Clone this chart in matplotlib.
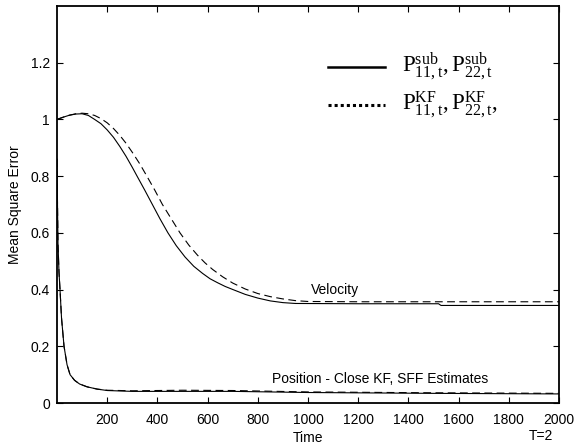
import matplotlib
matplotlib.use("Agg")
import matplotlib.pyplot as plt
from matplotlib.lines import Line2D

plt.rcParams['font.family'] = ['Liberation Sans', 'DejaVu Sans']
plt.rcParams['mathtext.fontset'] = 'custom'
plt.rcParams['mathtext.rm'] = 'Liberation Serif'
plt.rcParams['mathtext.it'] = 'Liberation Serif:italic'

# Velocity MSE (sub-optimal filter, solid)
vel_sub_t = [0, 25, 50, 75, 100, 125, 150, 175, 200, 225, 250, 275, 300, 319, 350, 380, 410, 442,
             475, 510, 545, 580, 610, 640, 670, 701, 750, 800, 850, 900, 950, 1200, 1520, 1530, 2000]
vel_sub_v = [1.0, 1.008, 1.015, 1.019, 1.02, 1.014, 1.0, 0.985, 0.963, 0.937, 0.905, 0.87, 0.831, 0.8, 0.75, 0.7, 0.65, 0.6,
             0.555, 0.515, 0.482, 0.457, 0.438, 0.424, 0.411, 0.40, 0.383, 0.37, 0.36, 0.354, 0.351, 0.35, 0.35, 0.344, 0.344]

# Velocity MSE (Kalman filter, dashed)
vel_kf_t = [0, 25, 50, 75, 100, 125, 150, 175, 200, 225, 250, 275, 300, 330, 358, 390, 420, 455, 490,
            525, 560, 590, 620, 660, 700, 750, 800, 850, 900, 950, 1000, 1200, 2000]
vel_kf_v = [1.0, 1.008, 1.015, 1.02, 1.022, 1.02, 1.014, 1.003, 0.988, 0.968, 0.944, 0.916, 0.884, 0.843, 0.8, 0.75, 0.70, 0.65, 0.6,
            0.557, 0.521, 0.494, 0.471, 0.445, 0.423, 0.402, 0.386, 0.375, 0.367, 0.361, 0.358, 0.357, 0.357]

# Position MSE (sub-optimal filter, solid)
pos_sub_t = [0, 2, 4, 8, 12, 18, 28, 40, 52, 70, 90, 120, 160, 200, 300, 500, 700, 1000, 1500, 2000]
pos_sub_v = [0.86, 0.7, 0.56, 0.46, 0.40, 0.30, 0.20, 0.135, 0.10, 0.08, 0.067, 0.057, 0.049, 0.044,
             0.041, 0.041, 0.041, 0.037, 0.034, 0.032]

# Position MSE (Kalman filter, dashed)
pos_kf_t = [0, 2, 4, 8, 12, 18, 28, 40, 52, 70, 90, 120, 160, 200, 300, 500, 700, 1000, 1500, 2000]
pos_kf_v = [0.86, 0.7, 0.56, 0.46, 0.40, 0.30, 0.20, 0.135, 0.10, 0.08, 0.067, 0.057, 0.049, 0.045,
            0.043, 0.045, 0.044, 0.039, 0.036, 0.034]

x_ticks = [200, 400, 600, 800, 1000, 1200, 1400, 1600, 1800, 2000]
y_ticks = [0, 0.2, 0.4, 0.6, 0.8, 1.0, 1.2]
y_tick_labels = ['0', '0.2', '0.4', '0.6', '0.8', '1', '1.2']

fig = plt.figure(figsize=(5.74, 4.44), dpi=100)
ax = fig.add_axes([57/574, 41/444, (559-57)/574, (403-6)/444])

lw = 0.8
ax.plot(vel_sub_t, vel_sub_v, color='black', lw=lw)
ax.plot(vel_kf_t, vel_kf_v, color='black', lw=lw, dashes=(7, 4))
ax.plot(pos_sub_t, pos_sub_v, color='black', lw=lw)
ax.plot(pos_kf_t, pos_kf_v, color='black', lw=lw, dashes=(7, 4))

ax.set_xlim(0, 2000)
ax.set_ylim(0, 1.4)
ax.set_xticks(x_ticks)
ax.set_yticks(y_ticks)
ax.set_yticklabels(y_tick_labels)
ax.tick_params(direction='in', top=True, right=True, length=4, width=0.8,
               labelsize=10)
ax.tick_params(axis='x', pad=7)
ax.tick_params(axis='y', pad=5)
for s in ax.spines.values():
    s.set_linewidth(1.3)

ax.set_xlabel('Time', fontsize=10, labelpad=3)
ax.set_ylabel('Mean Square Error', fontsize=10, labelpad=6)
fig.text(541/574, 1 - 436/444, 'T=2', ha='center', va='center', fontsize=10)

ax.text(1107, (403-289)/285, 'Velocity', ha='center', va='center', fontsize=10)
ax.text(855, (403-379)/285, 'Position - Close KF, SFF Estimates',
        ha='left', va='center', fontsize=10)

# custom legend
ax.add_line(Line2D([1080, 1307], [(403-65)/285]*2, color='black', lw=1.8))
ax.add_line(Line2D([1080, 1307], [(403-103)/285]*2,
                   color='black', lw=2.2, linestyle=(0, (1, 1))))
ax.text(1373, (403-65)/285,
        r'$\mathrm{P}^{\mathrm{sub}}_{\mathrm{11,t}},\mathrm{P}^{\mathrm{sub}}_{\mathrm{22,t}}$',
        ha='left', va='center', fontsize=16.5)
ax.text(1373, (403-103)/285,
        r'$\mathrm{P}^{\mathrm{KF}}_{\mathrm{11,t}},\mathrm{P}^{\mathrm{KF}}_{\mathrm{22,t}},$',
        ha='left', va='center', fontsize=16.5)

fig.savefig('out.png', dpi=100)
